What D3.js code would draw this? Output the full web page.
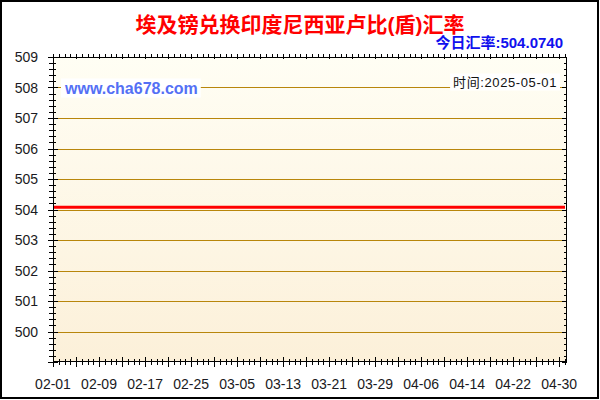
<!DOCTYPE html>
<html>
<head>
<meta charset="utf-8">
<script src="https://cdn.jsdelivr.net/npm/d3@7"></script>
<style>
body { margin:0; background:#fff; }
svg { display:block; font-family:"Liberation Sans","Noto Sans CJK SC",Arial,sans-serif; }
</style>
</head>
<body>
<svg id="chart"></svg>
<script>
//----------data-------------
var titleText = "埃及镑兑换印度尼西亚卢比(盾)汇率"
var rateText = "今日汇率:504.0740"
var timeText = "时间:2025-05-01"
var siteText = "www.cha678.com"
var rateDates = ["2025-02-01","2025-05-01"]
var rateValues = [504.0740, 504.0740]
var xTickLabels = ["02-01","02-09","02-17","02-25","03-05","03-13","03-21","03-29","04-06","04-14","04-22","04-30"]
var yTickLabels = [500,501,502,503,504,505,506,507,508,509]

var parse = d3.timeParse("%Y-%m-%d")

var screen = {width:600, height:400}
var margins = {left:53, right:33, top:57, bottom:38}
var graph = {
	width: screen.width - margins.left - margins.right,
	height: screen.height - margins.top - margins.bottom
}

var svg = d3.select("#chart")
	.attr("width", screen.width)
	.attr("height", screen.height)

//----------outer frame-------------
svg.append("rect")
	.attr("x",1).attr("y",1)
	.attr("width",screen.width-3).attr("height",screen.height-3)
	.attr("fill","#fff")
	.attr("stroke","#000")
	.attr("stroke-width",2)

var defs = svg.append("defs")
var grad = defs.append("linearGradient")
	.attr("id","bg").attr("x1",0).attr("y1",0).attr("x2",0).attr("y2",1)
grad.append("stop").attr("offset","0%").attr("stop-color","#fffef4")
grad.append("stop").attr("offset","100%").attr("stop-color","#fcf0d9")

//----------scales-------------
var xScale = d3.scaleTime()
	.domain([parse("2025-02-01"), parse("2025-05-01")])
	.range([0, graph.width - 2])

var yScale = d3.scaleLinear()
	.domain([499, 509])
	.range([graph.height, 0])

var target = svg.append("g")
	.attr("transform","translate(" + margins.left + "," + margins.top + ")")

target.append("rect")
	.attr("width", graph.width)
	.attr("height", graph.height)
	.attr("fill","url(#bg)")

//----------grid-------------
target.selectAll(".grid")
	.data(yTickLabels)
	.enter()
	.append("line")
	.attr("class","grid")
	.attr("x1",0).attr("x2",graph.width)
	.attr("y1",function(d){ return Math.round(yScale(d)) + 0.5 })
	.attr("y2",function(d){ return Math.round(yScale(d)) + 0.5 })
	.attr("stroke","#b8860b")
	.attr("stroke-width",1)

//----------labels inside plot-------------
var drawBoxText = function(txt, x, y, size, color, weight, anchor, spacing)
{
	var t = target.append("text")
		.attr("x",x).attr("y",y)
		.attr("font-size",size)
		.attr("font-weight",weight)
		.attr("fill",color)
		.attr("text-anchor",anchor)
		.attr("letter-spacing",spacing)
		.text(txt)
	var b = t.node().getBBox()
	target.insert("rect", function(){ return t.node() })
		.attr("x",b.x-3).attr("y",b.y-1)
		.attr("width",b.width+6).attr("height",b.height+2)
		.attr("fill","#fff")
}
drawBoxText(siteText, 12, yScale(508)+6, 16, "#5470f5", "bold", "start", 0)
drawBoxText(timeText, graph.width-10, yScale(508)-1, 13, "#111", "normal", "end", 0.6)

//----------rate line-------------
var rateData = rateDates.map(function(d,i){ return {date:parse(d), value:rateValues[i]} })
var line = d3.line()
	.x(function(d){ return xScale(d.date) })
	.y(function(d){ return yScale(d.value) })
target.append("path")
	.datum(rateData)
	.attr("d", line)
	.attr("fill","none")
	.attr("stroke","#ff0000")
	.attr("stroke-width",3)

//----------axes-------------
var allDays = d3.timeDay.range(parse("2025-02-01"), parse("2025-05-02"))
var minorY = d3.range(0,51).map(function(i){ return 499 + i*0.2 })

target.append("rect")
	.attr("x",0.5).attr("y",0.5)
	.attr("width",graph.width-1).attr("height",graph.height-1)
	.attr("fill","none").attr("stroke","#000").attr("stroke-width",1)

var ax = target.append("g").attr("stroke","#000").attr("stroke-width",1)
// left
ax.selectAll(".ly").data(minorY).enter().append("line")
	.attr("x1",function(d,i){ return i%5==0 ? -5 : -4 })
	.attr("x2",function(d,i){ return i%5==0 ? 5 : 3 })
	.attr("y1",function(d){ return Math.round(yScale(d))+0.5 })
	.attr("y2",function(d){ return Math.round(yScale(d))+0.5 })
// right
ax.selectAll(".ry").data(minorY).enter().append("line")
	.attr("x1",function(d,i){ return graph.width - (i%5==0 ? 5 : 3) })
	.attr("x2",graph.width)
	.attr("y1",function(d){ return Math.round(yScale(d))+0.5 })
	.attr("y2",function(d){ return Math.round(yScale(d))+0.5 })
// bottom
ax.selectAll(".bx").data(allDays).enter().append("line")
	.attr("x1",function(d){ return Math.round(xScale(d))+0.5 })
	.attr("x2",function(d){ return Math.round(xScale(d))+0.5 })
	.attr("y1",function(d,i){ return graph.height - (i%4==0 ? 5 : 3) })
	.attr("y2",function(d,i){ return graph.height + (i%4==0 ? 5 : 3) })
// top
ax.selectAll(".tx").data(allDays).enter().append("line")
	.attr("x1",function(d){ return Math.round(xScale(d))+0.5 })
	.attr("x2",function(d){ return Math.round(xScale(d))+0.5 })
	.attr("y1",-3)
	.attr("y2",function(d,i){ return i%4==0 ? 2 : 1 })

target.selectAll(".ylab").data(yTickLabels).enter().append("text")
	.attr("x",-15)
	.attr("y",function(d){ return yScale(d) + 5 })
	.attr("text-anchor","end")
	.attr("font-size",14)
	.attr("fill","#1a1a22")
	.text(function(d){ return d })

target.selectAll(".xlab").data(xTickLabels).enter().append("text")
	.attr("x",function(d){ return xScale(parse("2025-" + d)) })
	.attr("y",graph.height + 27)
	.attr("text-anchor","middle")
	.attr("font-size",14)
	.attr("fill","#1a1a22")
	.text(function(d){ return d })

//----------titles-------------
svg.append("text")
	.attr("x",300).attr("y",32)
	.attr("text-anchor","middle")
	.attr("font-size",21)
	.attr("font-weight","bold")
	.attr("fill","#ff0000")
	.text(titleText)

svg.append("text")
	.attr("x",563).attr("y",48)
	.attr("text-anchor","end")
	.attr("font-size",15)
	.attr("font-weight","bold")
	.attr("fill","#1010ee")
	.text(rateText)
</script>
</body>
</html>
